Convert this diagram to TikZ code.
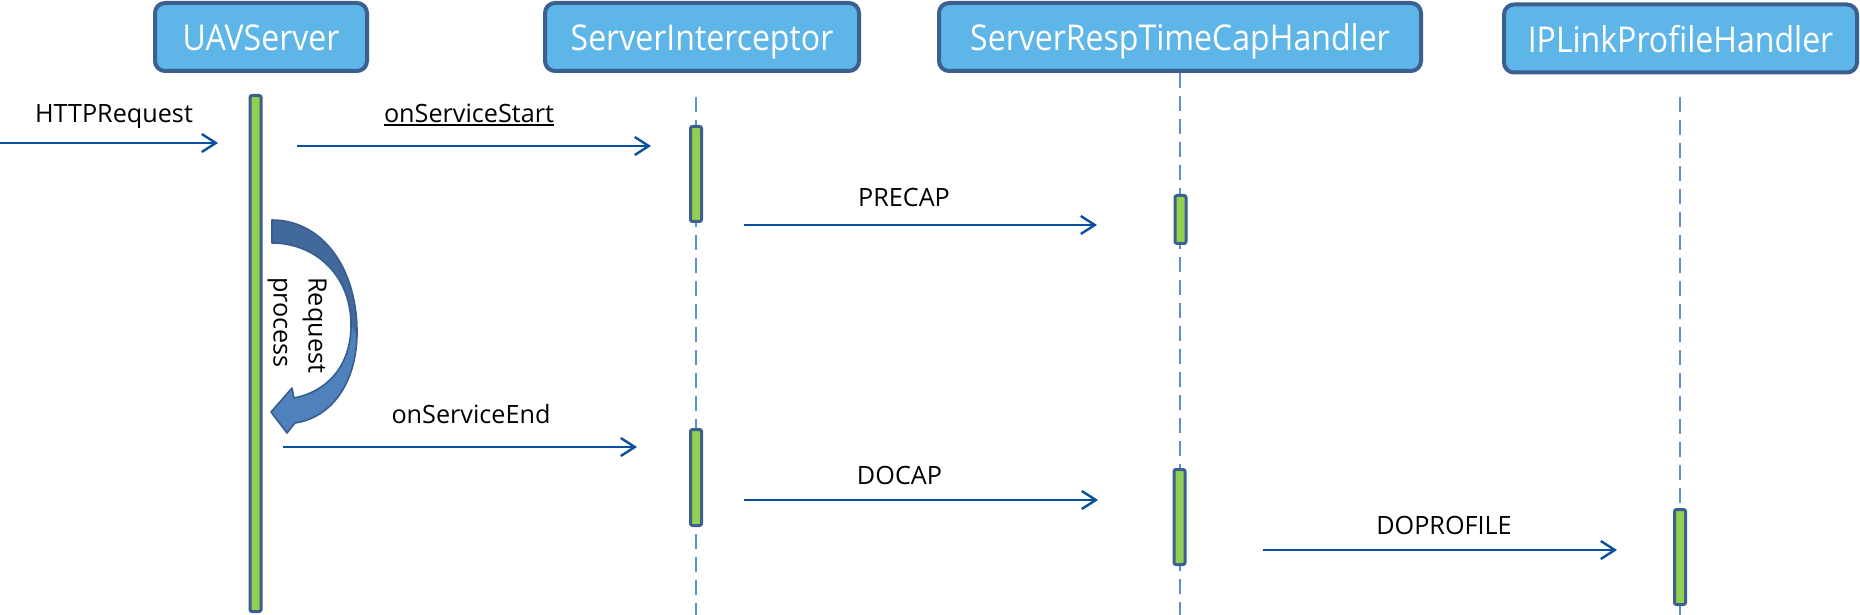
\documentclass[tikz,border=0pt]{standalone}
\usepackage{fontspec}
\setmainfont{Open Sans}
\newfontfamily\boxfont[FakeStretch=0.9]{Open Sans}
\usetikzlibrary{arrows.meta}
\definecolor{boxfill}{HTML}{5DB5E8}
\definecolor{boxedge}{HTML}{3B5F8E}
\definecolor{barfill}{HTML}{92D050}
\definecolor{lifecol}{HTML}{5B8FCF}
\definecolor{msgcol}{HTML}{0B4FA0}
\definecolor{facedark}{HTML}{41699B}
\definecolor{facelight}{HTML}{4F81BD}
\definecolor{faceedge}{HTML}{3A5E8C}
\begin{document}
\begin{tikzpicture}[x=0.5pt,y=-0.5pt,
  actor/.style={draw=boxedge, fill=boxfill, line width=2pt, rounded corners=5pt,
    minimum height=34pt, inner sep=0pt, text=white, text height=17pt, text depth=3pt,
    font=\boxfont\fontsize{17.8pt}{20pt}\selectfont},
  actbar/.style={draw=boxedge, fill=barfill, line width=1.5pt, rounded corners=1pt,
    minimum width=5.5pt, inner sep=0pt},
  lifeline/.style={draw=lifecol, line width=1pt, dash pattern=on 7.5pt off 4pt},
  msg/.style={draw=msgcol, line width=1.2pt, -{Straight Barb[length=7pt,width=9pt]}},
  msglabel/.style={anchor=base, inner sep=0pt, font=\fontsize{12.6pt}{17.5pt}\selectfont}]
\fill[white] (0,0) rectangle (1860,615);
\useasboundingbox (0,0) rectangle (1860,615);

% lifelines
\coordinate (sitop) at (696,97);
\coordinate (sibot) at (696,615);
\coordinate (srbot) at (1180,615);
\coordinate (iptop) at (1680,97);
\coordinate (ipbot) at (1680,615);

% actors
\node[actor, minimum width=106pt] (uav) at (261,37) {UAVServer};
\node[actor, minimum width=157pt] (si) at (702,37) {ServerInterceptor};
\node[actor, minimum width=241pt] (sr) at (1180,37) {ServerRespTimeCapHandler};
\node[actor, minimum width=176.5pt] (ip) at (1680.5,38.5) {IPLinkProfileHandler};

\draw[lifeline] (sitop) -- (sibot);
\draw[lifeline] (sr.south) -- (srbot);
\draw[lifeline] (iptop) -- (ipbot);

% activation bars
\node[actbar, minimum height=258pt] (uavbar) at (255.5,353.5) {};
\node[actbar, minimum height=47.5pt] (sibar1) at (696,174) {};
\node[actbar, minimum height=48pt] (sibar2) at (696,477.5) {};
\node[actbar, minimum height=24pt] (srbar1) at (1180.5,219.5) {};
\node[actbar, minimum height=47.5pt] (srbar2) at (1179.5,517) {};
\node[actbar, minimum height=47.5pt] (ipbar) at (1680,557) {};

% message end points
\coordinate (m1a) at (0,143);    \coordinate (m1b) at (218,143);
\coordinate (m2a) at (297,146);  \coordinate (m2b) at (651,146);
\coordinate (m3a) at (744,225);  \coordinate (m3b) at (1097,225);
\coordinate (m4a) at (283,447);  \coordinate (m4b) at (637,447);
\coordinate (m5a) at (744,500);  \coordinate (m5b) at (1098,500);
\coordinate (m6a) at (1263,550); \coordinate (m6b) at (1617,550);

\draw[msg] (m1a) -- (m1b);
\draw[msg] (m2a) -- (m2b);
\draw[msg] (m3a) -- (m3b);
\draw[msg] (m4a) -- (m4b);
\draw[msg] (m5a) -- (m5b);
\draw[msg] (m6a) -- (m6b);

% message labels
\node[msglabel] (l1) at (114,123) {HTTPRequest};
\node[msglabel] (l2) at (469,122.5) {onServiceStart};
\draw[line width=0.65pt] ([yshift=-1pt]l2.south west) -- ([yshift=-1pt]l2.south east);
\node[msglabel] (l3) at (904,206) {PRECAP};
\node[msglabel] (l4) at (471,423) {onServiceEnd};
\node[msglabel] (l5) at (899.5,484) {DOCAP};
\node[msglabel] (l6) at (1444,534) {DOPROFILE};

% curved "request process" arrow
\fill[facelight] (272,220) .. controls (322,220) and (358,268) .. (357,335)
  .. controls (356,385) and (330,418) .. (295,423) -- (287,433) -- (271,412)
  -- (292,388) -- (294,398) .. controls (325,392) and (351,368) .. (351,325)
  .. controls (351,275) and (315,243) .. (272,243) -- cycle;
\fill[facedark] (272,220) .. controls (322,220) and (358,268) .. (357,335)
  -- (351,325) .. controls (351,275) and (315,243) .. (272,243) -- cycle;
\draw[faceedge, line width=0.8pt, line join=round] (272,220) .. controls (322,220) and (358,268) .. (357,335)
  .. controls (356,385) and (330,418) .. (295,423) -- (287,433) -- (271,412)
  -- (292,388) -- (294,398) .. controls (325,392) and (351,368) .. (351,325)
  .. controls (351,275) and (315,243) .. (272,243) -- cycle;
\node[rotate=-90, anchor=north west, align=left, inner sep=0pt,
  font=\fontsize{12.6pt}{17.5pt}\selectfont] (rp) at (327,277) {Request\\process};
\end{tikzpicture}
\end{document}
